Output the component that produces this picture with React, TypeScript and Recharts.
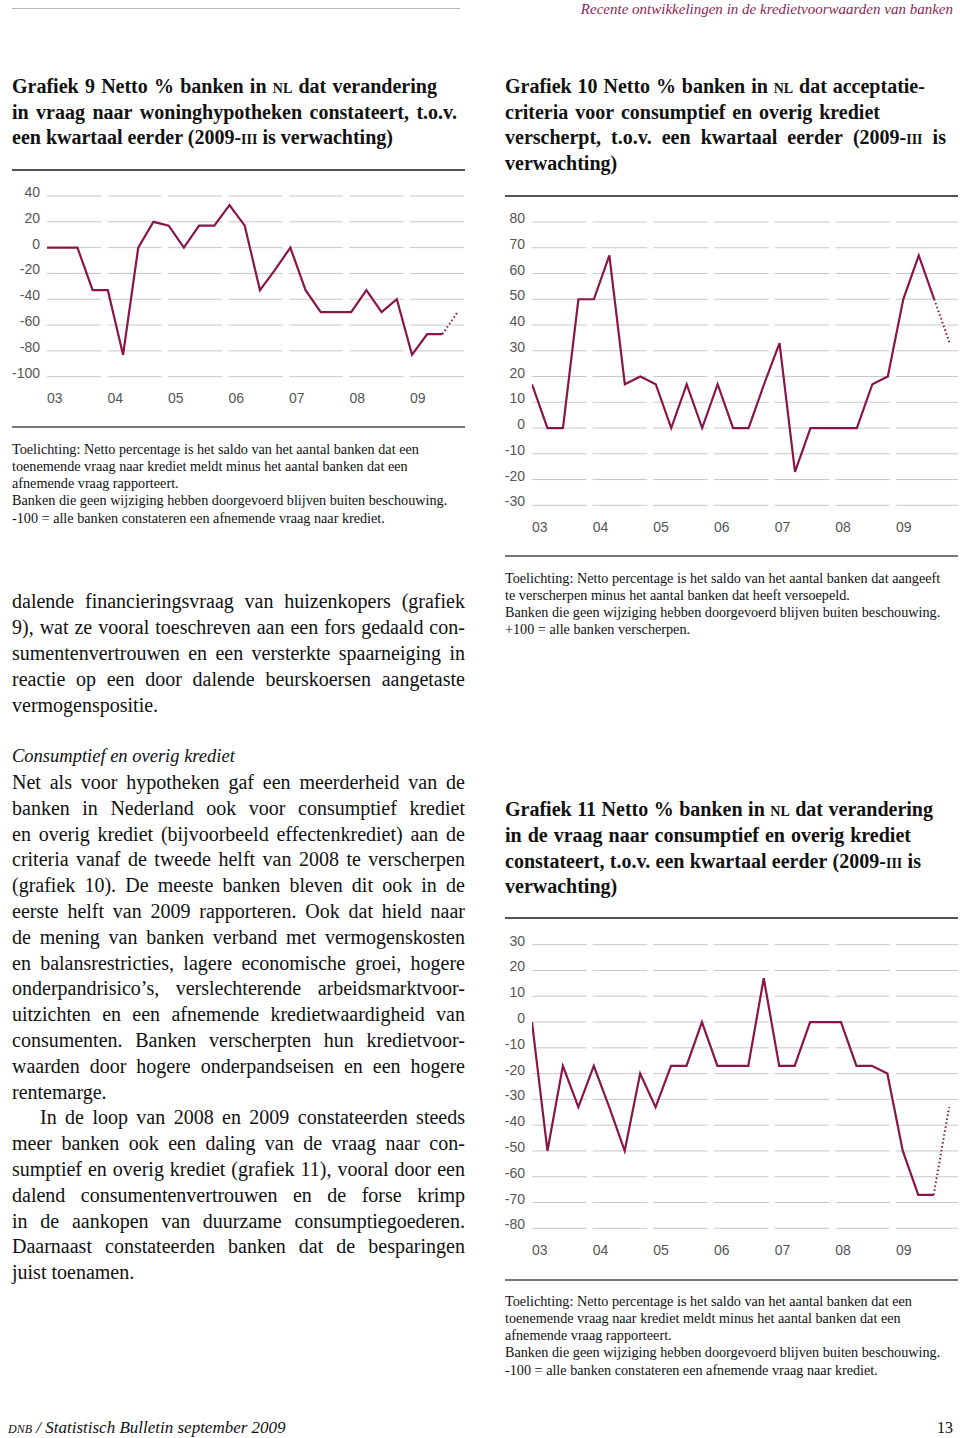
import React from "react";
import { LineChart, Line, XAxis, YAxis, CartesianGrid } from "recharts";

// quarterly net percentages, 2003 Q1 .. 2009 Q3 (last point = expectation)
const yearLabels = ["03", "04", "05", "06", "07", "08", "09"];
const mortgageDemand = [0, 0, 0, -33, -33, -83, 0, 20, 17, 0, 17, 17, 33, 17, -33, -17, 0, -33, -50, -50, -50, -33, -50, -40, -83, -67, -67, -50];
const consumerCriteria = [17, 0, 0, 50, 50, 67, 17, 20, 17, 0, 17, 0, 17, 0, 0, 17, 33, -17, 0, 0, 0, 0, 17, 20, 50, 67, 50, 33];
const consumerDemand = [0, -50, -17, -33, -17, -33, -50, -20, -33, -17, -17, 0, -17, -17, -17, 17, -17, -17, 0, 0, 0, -17, -17, -20, -50, -67, -67, -33];
const ticks9 = [-100, -80, -60, -40, -20, 0, 20, 40];
const ticks10 = [-30, -20, -10, 0, 10, 20, 30, 40, 50, 60, 70, 80];
const ticks11 = [-80, -70, -60, -50, -40, -30, -20, -10, 0, 10, 20, 30];

const LAST_ACTUAL = 26;
const INK = "#8a1547";
const AXIS_FONT = "'Liberation Sans', Arial, sans-serif";
const SERIF = "'Liberation Serif', 'Times New Roman', serif";

function rows(values: number[]) {
  return values.map((v, i) => ({
    q: i,
    v: i <= LAST_ACTUAL ? v : null,
    e: i >= LAST_ACTUAL ? v : null,
  }));
}

interface ChartProps {
  values: number[];
  ticks: number[];
  left: number;
  top: number;
  axisW: number;
  plotTop: number;
  plotW: number;
  plotH: number;
  qStep: number;
  yearStep: number;
  dash: string;
}

function QuarterChart(p: ChartProps) {
  const data = rows(p.values);
  const yMin = p.ticks[0];
  const yMax = p.ticks[p.ticks.length - 1];
  // year labels sit at the start of each grid segment, expressed in quarter units
  const yearTicks = yearLabels.map((_, k) => (k * p.yearStep) / p.qStep);
  return (
    <div style={{ position: "absolute", left: p.left, top: p.top }}>
      <LineChart
        width={p.axisW + p.plotW + 2}
        height={p.plotTop + p.plotH + 30}
        data={data}
        margin={{ top: p.plotTop, right: 2, bottom: 0, left: 0 }}
      >
        <CartesianGrid vertical={false} stroke="#c8c8c8" strokeDasharray={p.dash} />
        <XAxis
          dataKey="q"
          type="number"
          domain={[0, p.plotW / p.qStep]}
          allowDataOverflow
          ticks={yearTicks}
          interval={0}
          axisLine={false}
          tickLine={false}
          tickSize={0}
          tickMargin={0}
          height={30}
          tick={({ x, y, payload }: any) => {
            const k = yearTicks.findIndex((t) => Math.abs(t - payload.value) < 1e-6);
            return (
              <text x={x} y={y} dy={26.5} textAnchor="start" fontSize={14} fontFamily={AXIS_FONT} fill="#555">
                {yearLabels[k]}
              </text>
            );
          }}
        />
        <YAxis
          type="number"
          domain={[yMin, yMax]}
          ticks={p.ticks}
          interval={0}
          width={p.axisW}
          axisLine={false}
          tickLine={false}
          tickSize={0}
          tickMargin={0}
          tick={({ x, y, payload }: any) => (
            <text x={x - 7} y={y} dy={1} textAnchor="end" fontSize={14} fontFamily={AXIS_FONT} fill="#555">
              {payload.value}
            </text>
          )}
        />
        <Line type="linear" dataKey="v" stroke={INK} strokeWidth={2.2} dot={false} isAnimationActive={false} />
        <Line type="linear" dataKey="e" stroke={INK} strokeWidth={2} strokeDasharray="1.5 2.5" dot={false} isAnimationActive={false} />
      </LineChart>
    </div>
  );
}

const scStyle = { fontVariant: "small-caps" as const };

function fmt(word: string, k: number) {
  if (word === "NL") return <span key={k} style={scStyle}>nl</span>;
  if (word === "DNB") return <span key={k} style={scStyle}>dnb</span>;
  if (word.includes("III")) {
    const [a, b] = word.split("III");
    return (
      <span key={k}>
        {a}
        <span style={scStyle}>iii</span>
        {b}
      </span>
    );
  }
  return <span key={k}>{word}</span>;
}

function T({ x, cy, w, size = 20, lh = 26, italic, bold, justify, color = "#111", align, text }: any) {
  const words: string[] = text.split(" ");
  const base: React.CSSProperties = {
    position: "absolute",
    left: x,
    top: cy - lh / 2,
    width: w,
    height: lh,
    lineHeight: lh + "px",
    fontSize: size,
    fontFamily: SERIF,
    fontStyle: italic ? "italic" : "normal",
    fontWeight: bold ? 700 : 400,
    color,
    whiteSpace: "nowrap",
  };
  if (justify) {
    return <div style={{ ...base, display: "flex", justifyContent: "space-between" }}>{words.map(fmt)}</div>;
  }
  return (
    <div style={{ ...base, textAlign: align || "left" }}>
      {words.map((wd, i) => (
        <React.Fragment key={i}>
          {i > 0 ? " " : ""}
          {fmt(wd, i)}
        </React.Fragment>
      ))}
    </div>
  );
}

function Rule({ x1, x2, y, color = "#555", h = 1.5 }: any) {
  return <div style={{ position: "absolute", left: x1, top: y - h / 2, width: x2 - x1, height: h, background: color }} />;
}

const para1 = [
  "dalende financieringsvraag van huizenkopers (grafiek",
  "9), wat ze vooral toeschreven aan een fors gedaald con-",
  "sumentenvertrouwen en een versterkte spaarneiging in",
  "reactie op een door dalende beurskoersen aangetaste",
  "vermogenspositie.",
];
const para2 = [
  "Net als voor hypotheken gaf een meerderheid van de",
  "banken in Nederland ook voor consumptief krediet",
  "en overig krediet (bijvoorbeeld effectenkrediet) aan de",
  "criteria vanaf de tweede helft van 2008 te verscherpen",
  "(grafiek 10). De meeste banken bleven dit ook in de",
  "eerste helft van 2009 rapporteren. Ook dat hield naar",
  "de mening van banken verband met vermogenskosten",
  "en balansrestricties, lagere economische groei, hogere",
  "onderpandrisico’s, verslechterende arbeidsmarktvoor-",
  "uitzichten en een afnemende kredietwaardigheid van",
  "consumenten. Banken verscherpten hun kredietvoor-",
  "waarden door hogere onderpandseisen en een hogere",
  "rentemarge.",
  "In de loop van 2008 en 2009 constateerden steeds",
  "meer banken ook een daling van de vraag naar con-",
  "sumptief en overig krediet (grafiek 11), vooral door een",
  "dalend consumentenvertrouwen en de forse krimp",
  "in de aankopen van duurzame consumptiegoederen.",
  "Daarnaast constateerden banken dat de besparingen",
  "juist toenamen.",
];
const lastLines2 = [12, 19];

const note9 = [
  "Toelichting: Netto percentage is het saldo van het aantal banken dat een",
  "toenemende vraag naar krediet meldt minus het aantal banken dat een",
  "afnemende vraag rapporteert.",
  "Banken die geen wijziging hebben doorgevoerd blijven buiten beschouwing.",
  "-100 = alle banken constateren een afnemende vraag naar krediet.",
];
const note10 = [
  "Toelichting: Netto percentage is het saldo van het aantal banken dat aangeeft",
  "te verscherpen minus het aantal banken dat heeft versoepeld.",
  "Banken die geen wijziging hebben doorgevoerd blijven buiten beschouwing.",
  "+100 = alle banken verscherpen.",
];

const DASH_WIDE = "54.5 6.17 54.5 6.17 54.5 6.17 54.5 6.17 54.5 6.17 54.5 6.17 62 10";

export default function App() {
  return (
    <div style={{ position: "absolute", left: 0, top: 0, width: 960, height: 1438, background: "#fff", overflow: "hidden" }}>
      {/* running head */}
      <Rule x1={12} x2={460} y={8} color="#b5b5b5" h={1} />
      <T x={560} cy={8.5} w={393} size={15} lh={18} italic color="#8e1f55" align="right" text="Recente ontwikkelingen in de kredietvoorwaarden van banken" />

      {/* Grafiek 9 */}
      <T x={12} cy={86} w={425} bold justify text="Grafiek 9 Netto % banken in NL dat verandering" />
      <T x={12} cy={112} w={445} bold justify text="in vraag naar woninghypotheken constateert, t.o.v." />
      <T x={12} cy={137} w={400} bold text="een kwartaal eerder (2009-III is verwachting)" />
      <Rule x1={12} x2={465} y={170} />
      <QuarterChart values={mortgageDemand} ticks={ticks9} left={0} top={180} axisW={47} plotTop={16} plotW={417.5} plotH={180.7} qStep={15.21} yearStep={60.5} dash="54 6.5" />
      <Rule x1={12} x2={465} y={427} color="#777" />
      {note9.map((s, i) => (
        <T key={s} x={12} cy={449 + i * 17.3} w={460} size={14.2} lh={17} text={s} />
      ))}

      {/* Grafiek 10 */}
      <T x={505} cy={86} w={420} bold justify text="Grafiek 10 Netto % banken in NL dat acceptatie-" />
      <T x={505} cy={112} w={375} bold justify text="criteria voor consumptief en overig krediet" />
      <T x={505} cy={137} w={441} bold justify text="verscherpt, t.o.v. een kwartaal eerder (2009-III is" />
      <T x={505} cy={163} w={200} bold text="verwachting)" />
      <Rule x1={505} x2={958} y={196} />
      <QuarterChart values={consumerCriteria} ticks={ticks10} left={495} top={200} axisW={37} plotTop={22} plotW={426} plotH={283.3} qStep={15.47} yearStep={60.67} dash={DASH_WIDE} />
      <Rule x1={505} x2={958} y={556} color="#777" />
      {note10.map((s, i) => (
        <T key={s} x={505} cy={578 + i * 17.3} w={455} size={14.2} lh={17} text={s} />
      ))}

      {/* body text, left column */}
      {para1.map((s, i) => (
        <T key={s} x={12} cy={601 + i * 26} w={453} justify={i < para1.length - 1} text={s} />
      ))}
      <T x={12} cy={756} w={300} size={18.5} italic text="Consumptief en overig krediet" />
      {para2.map((s, i) => (
        <T
          key={s}
          x={i === 13 ? 40 : 12}
          cy={782 + i * 25.8}
          w={i === 13 ? 425 : 453}
          justify={!lastLines2.includes(i)}
          text={s}
        />
      ))}

      {/* Grafiek 11 */}
      <T x={505} cy={809} w={428} bold justify text="Grafiek 11 Netto % banken in NL dat verandering" />
      <T x={505} cy={835} w={406} bold justify text="in de vraag naar consumptief en overig krediet" />
      <T x={505} cy={861} w={416} bold justify text="constateert, t.o.v. een kwartaal eerder (2009-III is" />
      <T x={505} cy={886} w={200} bold text="verwachting)" />
      <Rule x1={505} x2={958} y={918} />
      <QuarterChart values={consumerDemand} ticks={ticks11} left={495} top={920} axisW={37} plotTop={24.7} plotW={426} plotH={283.6} qStep={15.45} yearStep={60.67} dash={DASH_WIDE} />
      <Rule x1={505} x2={958} y={1280} color="#777" />
      {note9.map((s, i) => (
        <T key={"n11" + s} x={505} cy={1301 + i * 17.3} w={455} size={14.2} lh={17} text={s} />
      ))}

      {/* footer */}
      <T x={8} cy={1428} w={300} size={17} lh={20} italic text="DNB / Statistisch Bulletin september 2009" />
      <T x={900} cy={1428} w={53} size={16} lh={20} align="right" text="13" />
    </div>
  );
}
